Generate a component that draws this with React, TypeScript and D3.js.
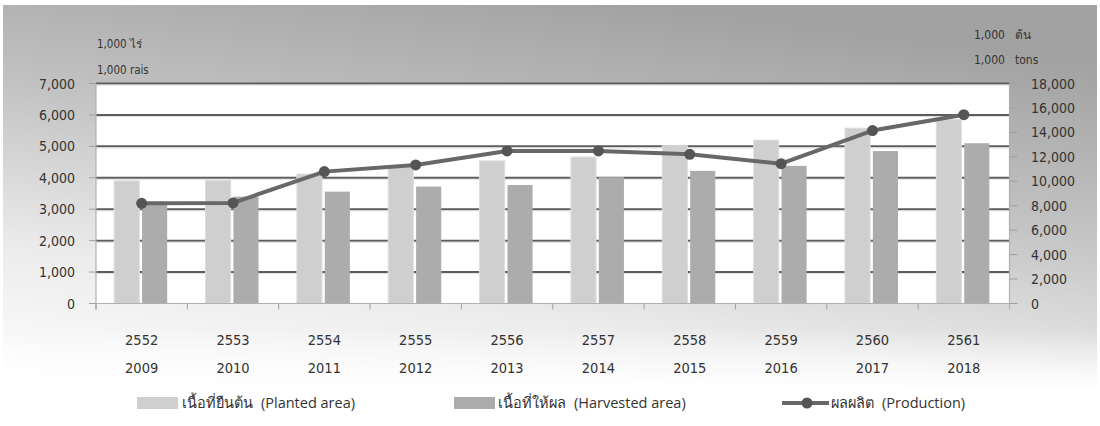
import React from "react";
import * as d3 from "d3";

const years = ["2009", "2010", "2011", "2012", "2013", "2014", "2015", "2016", "2017", "2018"];
const thaiYears = ["2552", "2553", "2554", "2555", "2556", "2557", "2558", "2559", "2560", "2561"];
const plantedArea = [3900, 3910, 4120, 4340, 4540, 4660, 5020, 5200, 5580, 5850];
const harvestedArea = [3140, 3400, 3560, 3720, 3770, 4020, 4220, 4380, 4850, 5100];
const production = [8200, 8230, 10790, 11340, 12480, 12480, 12210, 11440, 14150, 15450];
const leftTicks = [0, 1000, 2000, 3000, 4000, 5000, 6000, 7000];
const rightTicks = [0, 2000, 4000, 6000, 8000, 10000, 12000, 14000, 16000, 18000];
const seriesKeys = ["planted", "harvested"];

const W = 1100;
const H = 426;
const plot = { left: 96, right: 1009.5, top: 83.5, bottom: 303.5 };
const numFont = "'DejaVu Sans Condensed', 'DejaVu Sans', sans-serif";
const legendFont = "'Open Sans', 'Noto Sans', sans-serif";
const textColor = "#333333";

export default function App() {
  const x = d3.scaleBand<string>().domain(years).range([plot.left, plot.right]);
  const x1 = d3.scaleBand<string>().domain(seriesKeys).range([-27.5, 25.5]).paddingInner(0.1);
  const yL = d3.scaleLinear().domain([0, 7000]).range([plot.bottom, plot.top]);
  const yR = d3.scaleLinear().domain([0, 18000]).range([plot.bottom, plot.top]);
  const fmt = d3.format(",");
  const cx = (yr: string) => (x(yr) as number) + x.bandwidth() / 2;
  const line = d3
    .line<number>()
    .x((_, i) => cx(years[i]))
    .y((v) => yR(v));

  return (
    <svg width={W} height={H} style={{ display: "block", position: "absolute", left: 0, top: 0 }}>
      <defs>
        <linearGradient id="bg" x1="0.25" y1="1" x2="0.6" y2="0">
          <stop offset="0" stopColor="#ffffff" />
          <stop offset="0.3" stopColor="#ececec" />
          <stop offset="0.65" stopColor="#c2c2c2" />
          <stop offset="1" stopColor="#a2a2a2" />
        </linearGradient>
        <linearGradient id="fadeBottom" x1="0" y1="0" x2="0" y2="1">
          <stop offset="0" stopColor="#ffffff" stopOpacity="0" />
          <stop offset="1" stopColor="#ffffff" stopOpacity="1" />
        </linearGradient>
      </defs>
      <rect x={0} y={0} width={W} height={H} fill="#ffffff" />
      <rect x={3} y={5} width={W - 6} height={H - 5} fill="url(#bg)" />
      <rect x={0} y={330} width={W} height={60} fill="url(#fadeBottom)" />
      <rect x={0} y={388} width={W} height={H - 388} fill="#ffffff" />

      {/* plot area */}
      <rect x={plot.left} y={plot.top} width={plot.right - plot.left} height={plot.bottom - plot.top} fill="#ffffff" />

      {/* gridlines */}
      {leftTicks.slice(1).map((t) => (
        <g key={"g" + t}>
          <line x1={plot.left} x2={plot.right} y1={yL(t)} y2={yL(t)} stroke="#5c5c5c" strokeWidth={2} />
          <line x1={plot.left} x2={plot.right} y1={yL(t) + 1.6} y2={yL(t) + 1.6} stroke="#d8d8d8" strokeWidth={0.8} />
        </g>
      ))}

      {/* bars */}
      {years.map((yr, i) => (
        <g key={"b" + yr}>
          <rect
            x={cx(yr) + (x1("planted") as number)}
            y={yL(plantedArea[i])}
            width={x1.bandwidth()}
            height={plot.bottom - yL(plantedArea[i])}
            fill="#cfcfcf"
            stroke="#dedede"
            strokeWidth={1}
          />
          <rect
            x={cx(yr) + (x1("harvested") as number)}
            y={yL(harvestedArea[i])}
            width={x1.bandwidth()}
            height={plot.bottom - yL(harvestedArea[i])}
            fill="#acacac"
          />
        </g>
      ))}

      {/* axes */}
      <line x1={plot.left} x2={plot.left} y1={plot.top} y2={plot.bottom + 6} stroke="#b0b0b0" strokeWidth={1.2} />
      <line x1={plot.right} x2={plot.right} y1={plot.top} y2={plot.bottom + 6} stroke="#b0b0b0" strokeWidth={1.2} />
      <line x1={plot.left - 7} x2={plot.right + 8} y1={plot.bottom} y2={plot.bottom} stroke="#b0b0b0" strokeWidth={1.2} />
      {years.map((yr) => (
        <line
          key={"xt" + yr}
          x1={x(yr) as number}
          x2={x(yr) as number}
          y1={plot.bottom}
          y2={plot.bottom + 6}
          stroke="#a0a0a0"
          strokeWidth={1}
        />
      ))}
      {leftTicks.map((t) => (
        <g key={"lt" + t}>
          <line x1={plot.left - 7} x2={plot.left} y1={yL(t)} y2={yL(t)} stroke="#a0a0a0" strokeWidth={1} />
          <text x={75} y={yL(t)} dy="0.36em" textAnchor="end" fontFamily={numFont} fontSize={14} fill={textColor}>
            {fmt(t)}
          </text>
        </g>
      ))}
      {rightTicks.map((t) => (
        <g key={"rt" + t}>
          <line x1={plot.right} x2={plot.right + 8} y1={yR(t)} y2={yR(t)} stroke="#a0a0a0" strokeWidth={1} />
          <text x={1031} y={yR(t)} dy="0.36em" textAnchor="start" fontFamily={numFont} fontSize={14} fill={textColor}>
            {fmt(t)}
          </text>
        </g>
      ))}

      {/* x labels */}
      {years.map((yr, i) => (
        <g key={"xl" + yr}>
          <text x={cx(yr)} y={345} textAnchor="middle" fontFamily={numFont} fontSize={14.5} fill={textColor}>
            {thaiYears[i]}
          </text>
          <text x={cx(yr)} y={373} textAnchor="middle" fontFamily={numFont} fontSize={14.5} fill={textColor}>
            {yr}
          </text>
        </g>
      ))}

      {/* production line */}
      <path d={line(production) || ""} fill="none" stroke="#686868" strokeWidth={4} strokeLinejoin="round" />
      {production.map((v, i) => (
        <circle key={"p" + i} cx={cx(years[i])} cy={yR(v)} r={5.5} fill="#555555" />
      ))}

      {/* unit labels */}
      <text x={97} y={48} fontFamily={numFont} fontSize={11.5} fill={textColor}>1,000 ไร่</text>
      <text x={97} y={74} fontFamily={numFont} fontSize={11.5} fill={textColor}>1,000 rais</text>
      <text x={974} y={39} fontFamily={numFont} fontSize={12} fill={textColor}>1,000</text>
      <text x={1015} y={39} fontFamily={numFont} fontSize={12} fill={textColor}>ต้น</text>
      <text x={974} y={64} fontFamily={numFont} fontSize={12} fill={textColor}>1,000</text>
      <text x={1015} y={64} fontFamily={numFont} fontSize={12} fill={textColor}>tons</text>

      {/* legend */}
      <rect x={137} y={397} width={41} height={12} fill="#cfcfcf" />
      <text x={182} y={403} dy="0.36em" fontFamily={legendFont} fontSize={14.5} fill={textColor}>
        <tspan>เนื้อที่ยืนต้น</tspan>
        <tspan dx={8}>(Planted area)</tspan>
      </text>
      <rect x={454} y={397} width={41} height={12} fill="#acacac" />
      <text x={498} y={403} dy="0.36em" fontFamily={legendFont} fontSize={14.5} fill={textColor}>
        <tspan>เนื้อที่ให้ผล</tspan>
        <tspan dx={8}>(Harvested area)</tspan>
      </text>
      <line x1={782} x2={829} y1={403} y2={403} stroke="#686868" strokeWidth={4} />
      <circle cx={807} cy={403} r={5.5} fill="#555555" />
      <text x={831} y={403} dy="0.36em" fontFamily={legendFont} fontSize={14.5} fill={textColor}>
        <tspan>ผลผลิต</tspan>
        <tspan dx={8}>(Production)</tspan>
      </text>
    </svg>
  );
}
